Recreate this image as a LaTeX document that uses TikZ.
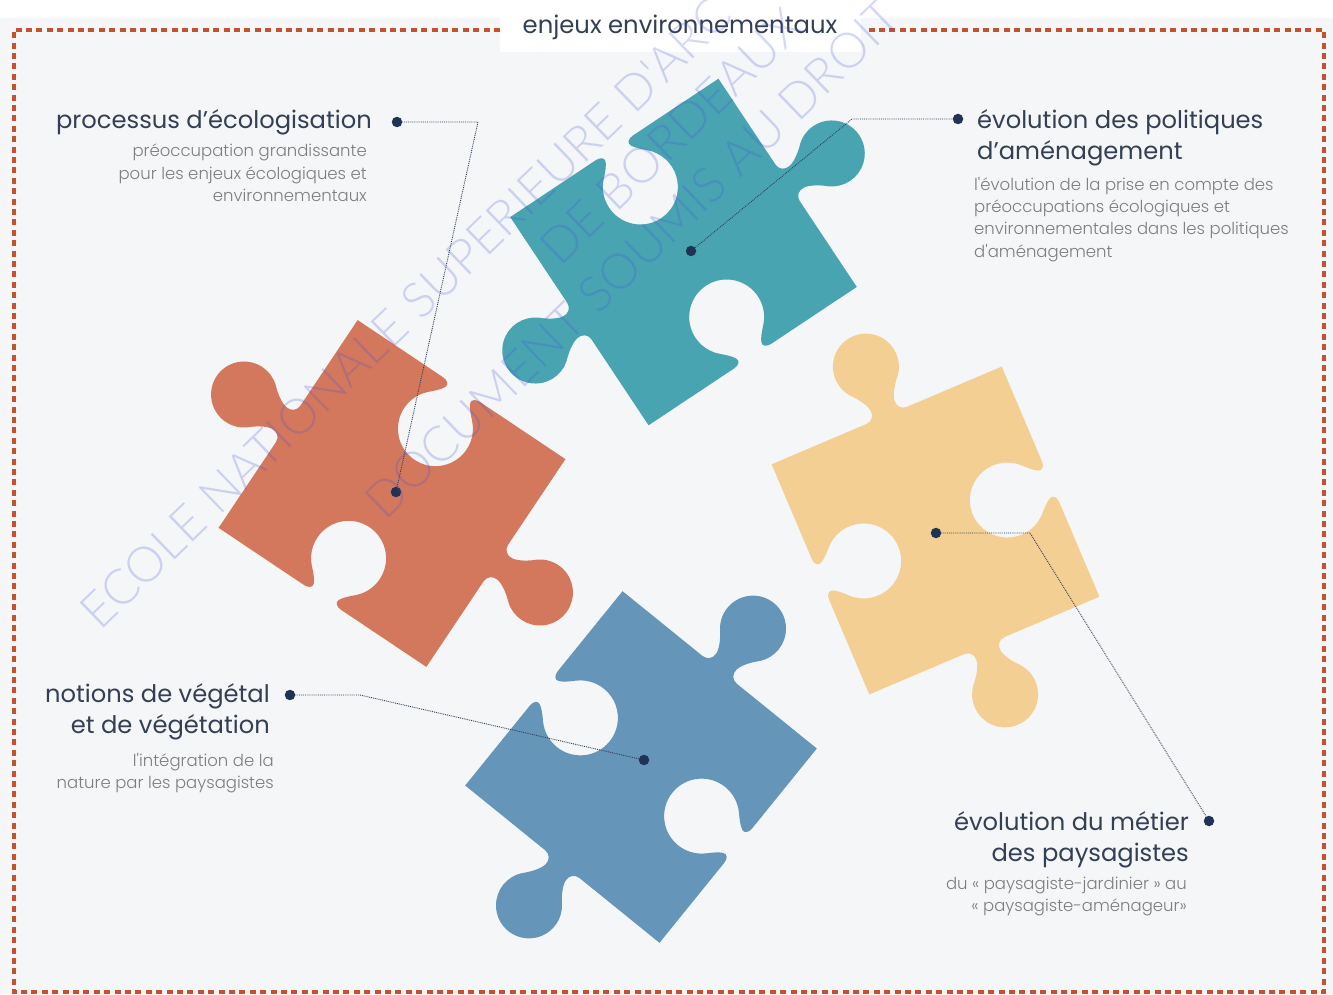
\documentclass[tikz,border=0pt]{standalone}
\usepackage{fontspec}
\usepackage{xcolor}
\setmainfont{Poppins}
\newfontfamily\lightfont{Poppins Light}
\newfontfamily\markfont{Lato Light}
\definecolor{panelgray}{HTML}{F4F6F7}
\definecolor{brick}{HTML}{D3785D}
\definecolor{lagoon}{HTML}{49A4B1}
\definecolor{sand}{HTML}{F3CF93}
\definecolor{steel}{HTML}{6595B8}
\definecolor{rust}{HTML}{C5522C}
\definecolor{navy}{HTML}{1F3355}
\definecolor{inkblue}{HTML}{333F55}
\definecolor{softgray}{HTML}{7E7E82}
\definecolor{stamp}{HTML}{3C4CE0}

\begin{document}
\begin{tikzpicture}[x=1pt, y=1pt, % one unit is one pixel of the page
  spot/.style={circle, fill=navy, inner sep=0pt, minimum size=10.5pt}, % the dots at both ends of a leader
  leader/.style={densely dotted, line width=0.9pt, color=inkblue}, % the thin leader lines
  headline/.style={inner sep=0pt, text=inkblue, font=\fontsize{24.2}{31.5}\selectfont},
  subline/.style={inner sep=0pt, text=softgray, font=\lightfont\fontsize{16.5}{22.3}\selectfont},
  watermark/.style={inner sep=0pt, anchor=base west, rotate=44, text=stamp, text opacity=0.22, font=\markfont\fontsize{49}{49}\selectfont},
  piece/.pic={
    \fill[pic actions] (-125,125) -- (-22,125)
      .. controls (-17,125) and (-13,122) .. (-15,118)
      .. controls (-17,114) and (-21.7,109.1) .. (-26,105)
      arc[start angle=134, end angle=406, radius=37.5]
      .. controls (21.7,109.1) and (17,114) .. (15,118)
      .. controls (13,122) and (17,125) .. (22,125)
      -- (125,125) -- (125,22)
      .. controls (125,16) and (130,12) .. (136,13)
      .. controls (143,14) and (152.4,21.1) .. (156.8,25.3)
      arc[start angle=130, end angle=-130, radius=33]
      .. controls (152.4,-21.1) and (143,-14) .. (136,-13)
      .. controls (130,-12) and (125,-16) .. (125,-22)
      -- (125,-125) -- (22,-125)
      .. controls (17,-125) and (13,-122) .. (15,-118)
      .. controls (17,-114) and (21.7,-109.1) .. (26,-105)
      arc[start angle=-46, end angle=226, radius=37.5]
      .. controls (-21.7,-109.1) and (-17,-114) .. (-15,-118)
      .. controls (-13,-122) and (-17,-125) .. (-22,-125)
      -- (-125,-125) -- (-125,-22)
      .. controls (-125,-16) and (-130,-12) .. (-136,-13)
      .. controls (-143,-14) and (-152.4,-21.1) .. (-156.8,-25.3)
      arc[start angle=-50, end angle=-310, radius=33]
      .. controls (-152.4,21.1) and (-143,14) .. (-136,13)
      .. controls (-130,12) and (-125,16) .. (-125,22)
      -- cycle;
  },
]
    \useasboundingbox (0,0) rectangle (1333,994);

    % page and frame
    \fill[panelgray] (0,0) rectangle (1333,976);
    \fill[white] (500,942) rectangle (861,994);
    \coordinate (frameleft) at (500,964);
    \coordinate (frameright) at (865,964);
    \draw[rust, line width=4pt, dash pattern=on 6pt off 4.4pt]
      (frameleft) -- (13.5,964) -- (13.5,2) -- (1324,2) -- (1324,964) -- (frameright);
    \node[inner sep=0pt, text=inkblue, font=\fontsize{24.3}{30}\selectfont] (title) at (680,967) {enjeux environnementaux};

    % the four pieces
    \pic[fill=brick, rotate=-33.8] (redpiece) at (392,500.5) {piece};
    \pic[fill=lagoon, rotate=33.6] (tealpiece) at (683.5,742) {piece};
    \pic[fill=sand, rotate=-67] (sandpiece) at (935.5,463.5) {piece};
    \pic[fill=steel, rotate=51] (bluepiece) at (641,227) {piece};

    % leaders
    \node[spot] (redspot) at (396,502) {};
    \node[spot] (redend) at (397,872) {};
    \coordinate (redbend) at (478,872);
    \node[spot] (tealspot) at (691,743) {};
    \node[spot] (tealend) at (958,875) {};
    \coordinate (tealbend) at (852,875);
    \node[spot] (sandspot) at (936,461) {};
    \node[spot] (sandend) at (1209,173) {};
    \coordinate (sandbend) at (1030,461);
    \node[spot] (bluespot) at (644,234) {};
    \node[spot] (blueend) at (290,299) {};
    \coordinate (bluebend) at (360,299);
    \draw[leader] (redspot) -- (redbend) -- (redend);
    \draw[leader] (tealspot) -- (tealbend) -- (tealend);
    \draw[leader] (sandspot) -- (sandbend) -- (sandend);
    \draw[leader] (bluespot) -- (bluebend) -- (blueend);

    % labels
    \node[headline, anchor=north east] (redhead) at (372,885) {processus d'écologisation};
    \node[subline, anchor=north east, align=right] (redtext) at (367,850) {préoccupation grandissante\\pour les enjeux écologiques et\\environnementaux};
    \node[headline, anchor=north west, align=left] (tealhead) at (977,885) {évolution des politiques\\d'aménagement};
    \node[subline, anchor=north west, align=left] (tealtext) at (974,817) {l'évolution de la prise en compte des\\préoccupations écologiques et\\environnementales dans les politiques\\d'aménagement};
    \node[headline, anchor=north east, align=right] (bluehead) at (270,311) {notions de végétal\\et de végétation};
    \node[subline, anchor=north east, align=right] (bluetext) at (274,241) {l'intégration de la\\nature par les paysagistes};
    \node[headline, anchor=north east, align=right] (sandhead) at (1189,183) {évolution du métier\\des paysagistes};
    \node[subline, anchor=north east, align=right] (sandtext) at (1187,117) {du « paysagiste-jardinier » au\\« paysagiste-aménageur»};

    % watermark
    \node[watermark] (markone) at (100,362) {ECOLE NATIONALE SUPERIEURE D'ARC};
    \node[watermark] (marktwo) at (560,726) {DE BORDEAUX};
    \node[watermark] (markthree) at (385,472) {DOCUMENT SOUMIS AU DROIT};
\end{tikzpicture}
\end{document}
